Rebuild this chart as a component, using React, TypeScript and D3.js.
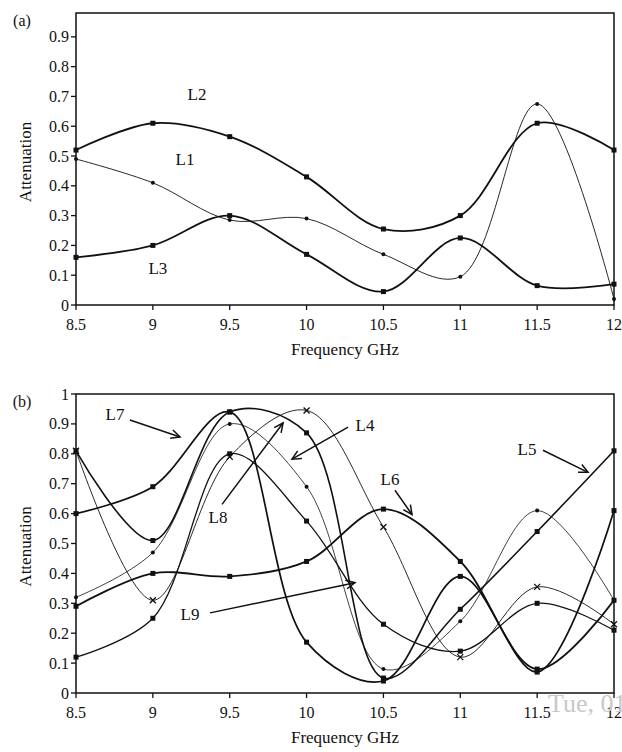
import React from 'react';
import * as d3 from 'd3';

// frequency grid shared by both panels (GHz)
const freqs = [8.5, 9, 9.5, 10, 10.5, 11, 11.5, 12];
const xTickLabels = ['8.5', '9', '9.5', '10', '10.5', '11', '11.5', '12'];
const yTicksA = [0, 0.1, 0.2, 0.3, 0.4, 0.5, 0.6, 0.7, 0.8, 0.9];
const yTicksB = [0, 0.1, 0.2, 0.3, 0.4, 0.5, 0.6, 0.7, 0.8, 0.9, 1];

// panel (a)
const aL1 = [0.49, 0.41, 0.285, 0.29, 0.17, 0.095, 0.675, 0.02];
const aL2 = [0.52, 0.61, 0.565, 0.43, 0.255, 0.30, 0.61, 0.52];
const aL3 = [0.16, 0.20, 0.30, 0.17, 0.045, 0.225, 0.065, 0.07];

// panel (b)
const bL4 = [0.32, 0.47, 0.90, 0.69, 0.08, 0.24, 0.61, 0.31];
const bL5 = [0.81, 0.51, 0.94, 0.87, 0.05, 0.28, 0.54, 0.81];
const bL6 = [0.29, 0.40, 0.39, 0.44, 0.615, 0.44, 0.08, 0.31];
const bL7 = [0.60, 0.69, 0.94, 0.17, 0.04, 0.39, 0.07, 0.61];
const bL8 = [0.81, 0.31, 0.79, 0.945, 0.555, 0.12, 0.355, 0.23];
const bL9 = [0.12, 0.25, 0.80, 0.575, 0.23, 0.14, 0.30, 0.21];

const FONT = "'Liberation Serif', 'Times New Roman', serif";

type Series = { values: number[]; width: number; marker: 'square' | 'dot' | 'cross' };
type Note = { text: string; at: [number, number]; arrow?: [number, number, number, number] };

const seriesA: Series[] = [
  { values: aL1, width: 0.9, marker: 'dot' },
  { values: aL2, width: 1.8, marker: 'square' },
  { values: aL3, width: 1.8, marker: 'square' },
];
const notesA: Note[] = [
  { text: 'L2', at: [9.287, 0.705] },
  { text: 'L1', at: [9.209, 0.487] },
  { text: 'L3', at: [9.033, 0.124] },
];

const seriesB: Series[] = [
  { values: bL4, width: 0.8, marker: 'dot' },
  { values: bL5, width: 1.6, marker: 'square' },
  { values: bL6, width: 1.9, marker: 'square' },
  { values: bL7, width: 1.7, marker: 'square' },
  { values: bL8, width: 0.9, marker: 'cross' },
  { values: bL9, width: 1.3, marker: 'square' },
];
const notesB: Note[] = [
  { text: 'L7', at: [8.754, 0.93], arrow: [8.851, 0.913, 9.177, 0.856] },
  { text: 'L8', at: [9.424, 0.587], arrow: [9.45, 0.631, 9.847, 0.903] },
  { text: 'L4', at: [10.38, 0.893], arrow: [10.27, 0.889, 9.905, 0.782] },
  { text: 'L9', at: [9.242, 0.262], arrow: [9.372, 0.268, 10.315, 0.369] },
  { text: 'L6', at: [10.543, 0.715], arrow: [10.575, 0.678, 10.686, 0.597] },
  { text: 'L5', at: [11.434, 0.815], arrow: [11.538, 0.812, 11.831, 0.738] },
];

const Panel = ({ top, bottom, yMax, yTicks, series, notes, tag }: {
  top: number; bottom: number; yMax: number; yTicks: number[];
  series: Series[]; notes: Note[]; tag: string;
}) => {
  const left = 76, right = 614;
  const x = d3.scaleLinear().domain([8.5, 12]).range([left, right]);
  const y = d3.scaleLinear().domain([0, yMax]).range([bottom, top]);
  const line = d3.line<number>()
    .x((_, i) => x(freqs[i]))
    .y(d => y(d))
    .curve(d3.curveCatmullRom.alpha(0.5));

  const arrowHead = (x1: number, y1: number, x2: number, y2: number) => {
    const ang = Math.atan2(y2 - y1, x2 - x1);
    const len = 10, spread = 0.45;
    const p1 = [x2 - len * Math.cos(ang - spread), y2 - len * Math.sin(ang - spread)];
    const p2 = [x2 - len * Math.cos(ang + spread), y2 - len * Math.sin(ang + spread)];
    return `M${p1[0]},${p1[1]}L${x2},${y2}L${p2[0]},${p2[1]}`;
  };

  return (
    <g fontFamily={FONT} fill="#111">
      <text x={22} y={top + 7} fontSize={16} textAnchor="middle" dominantBaseline="central">{tag}</text>
      {/* frame */}
      <rect x={left} y={top} width={right - left} height={bottom - top} fill="none" stroke="#111" strokeWidth={1.5} />
      {yTicks.map(t => (
        <g key={t}>
          <line x1={left - 5} x2={left} y1={y(t)} y2={y(t)} stroke="#111" strokeWidth={1.3} />
          <text x={left - 7} y={y(t)} fontSize={16} textAnchor="end" dominantBaseline="central">{t}</text>
        </g>
      ))}
      {freqs.map((f, i) => (
        <g key={f}>
          <line x1={x(f)} x2={x(f)} y1={bottom} y2={bottom + 5} stroke="#111" strokeWidth={1.3} />
          <text x={x(f)} y={bottom + 19} fontSize={16} textAnchor="middle" dominantBaseline="central">{xTickLabels[i]}</text>
        </g>
      ))}
      <text x={x(10.25)} y={bottom + 44} fontSize={17} textAnchor="middle" dominantBaseline="central">Frequency GHz</text>
      <text transform={`translate(25,${(top + bottom) / 2 + 3}) rotate(-90)`} fontSize={17} textAnchor="middle" dominantBaseline="central">Attenuation</text>

      {series.map((s, k) => (
        <g key={k}>
          <path d={line(s.values) || ''} fill="none" stroke="#111" strokeWidth={s.width} />
          {s.values.map((v, i) => {
            const cx = x(freqs[i]), cy = y(v);
            if (s.marker === 'square') return <rect key={i} x={cx - 2.5} y={cy - 2.5} width={5} height={5} fill="#111" />;
            if (s.marker === 'dot') return <circle key={i} cx={cx} cy={cy} r={2} fill="#111" />;
            return <path key={i} d={`M${cx - 3},${cy - 3}L${cx + 3},${cy + 3}M${cx - 3},${cy + 3}L${cx + 3},${cy - 3}`} stroke="#111" strokeWidth={1.3} />;
          })}
        </g>
      ))}

      {notes.map(n => (
        <g key={n.text}>
          <text x={x(n.at[0])} y={y(n.at[1])} fontSize={17} textAnchor="middle" dominantBaseline="central">{n.text}</text>
          {n.arrow && (
            <g stroke="#111" strokeWidth={1.5} fill="none">
              <line x1={x(n.arrow[0])} y1={y(n.arrow[1])} x2={x(n.arrow[2])} y2={y(n.arrow[3])} />
              <path d={arrowHead(x(n.arrow[0]), y(n.arrow[1]), x(n.arrow[2]), y(n.arrow[3]))} />
            </g>
          )}
        </g>
      ))}
    </g>
  );
};

export default function App() {
  return (
    <svg width={622} height={752} style={{ position: 'absolute', left: 0, top: 0, background: '#fff' }}>
      <rect width={622} height={752} fill="#fff" />
      <Panel top={13} bottom={305} yMax={0.98} yTicks={yTicksA} series={seriesA} notes={notesA} tag="(a)" />
      <Panel top={394} bottom={693} yMax={1} yTicks={yTicksB} series={seriesB} notes={notesB} tag="(b)" />
      <text x={548} y={712} fontFamily={FONT} fontSize={26} fill="#c8c8c8">Tue, 01</text>
    </svg>
  );
}
